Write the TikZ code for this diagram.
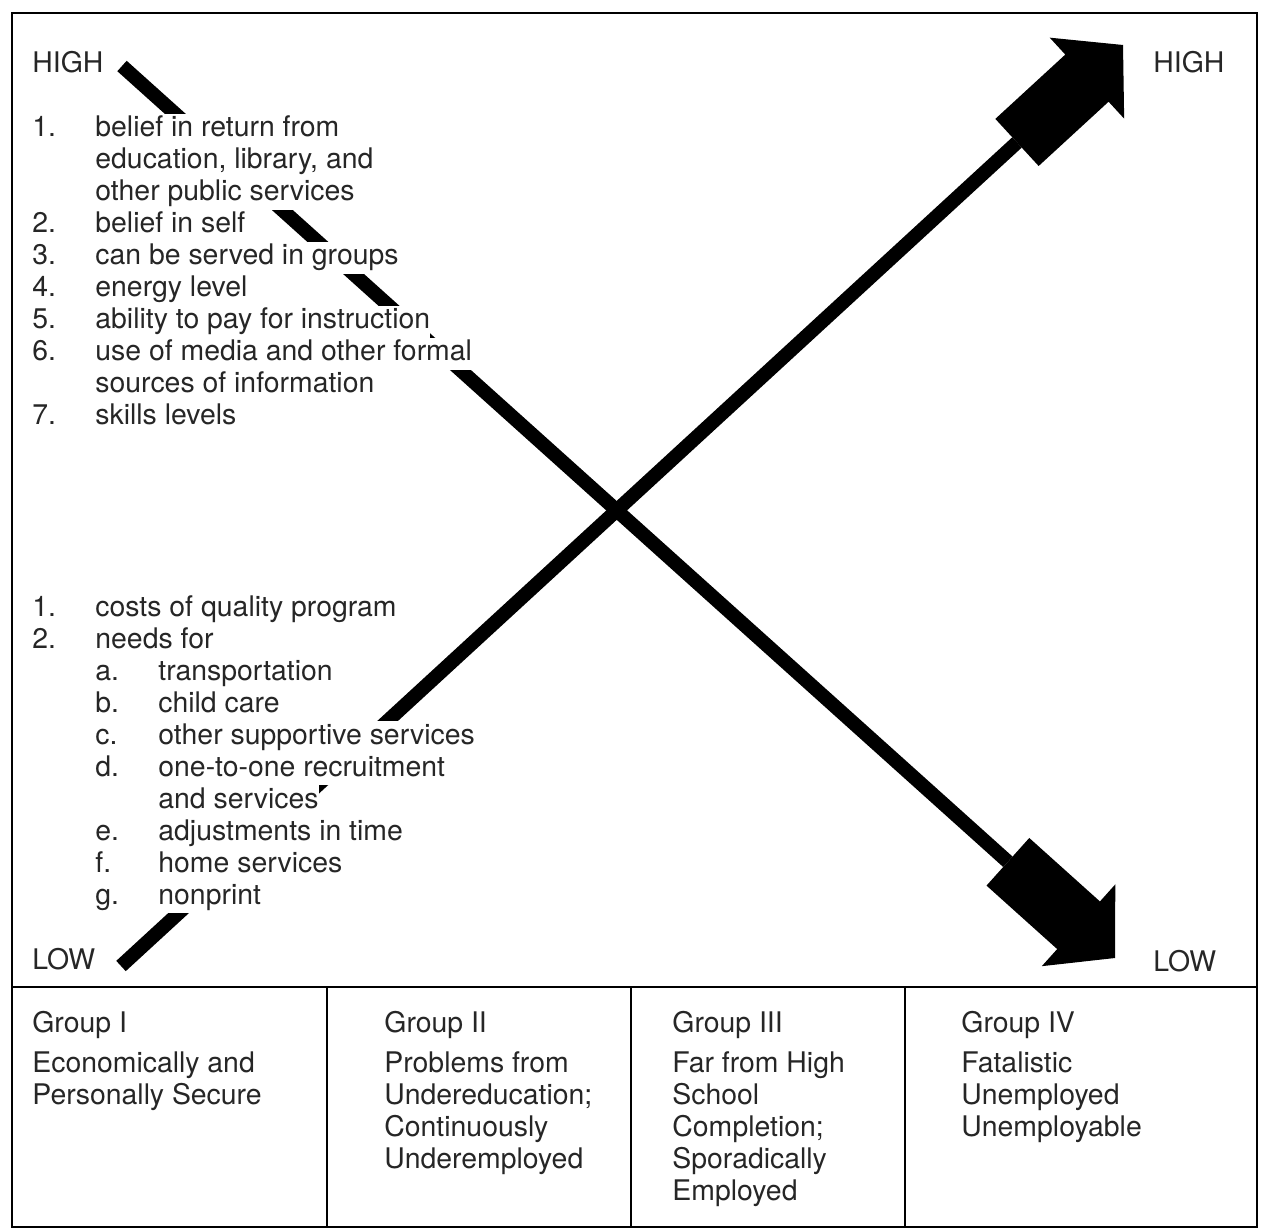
\documentclass[tikz,border=0pt]{standalone}
\usepackage{fontspec}
\setmainfont{TeX Gyre Heros}
\usepackage{tikz}
\usetikzlibrary{calc}
\newcommand{\makearrow}[2]{
	\coordinate (hb) at ($(#2)!24.5pt!(#1)$);
	\coordinate (bb) at ($(#2)!72pt!(#1)$);
	\draw[line width=7pt] (#1) -- (bb);
	\fill ($(bb)!16pt!90:(#2)$) -- ($(hb)!16pt!90:(#2)$) -- ($(hb)!27.5pt!90:(#2)$) -- (#2)
		-- ($(hb)!27.5pt!-90:(#2)$) -- ($(hb)!16pt!-90:(#2)$) -- ($(bb)!16pt!-90:(#2)$) -- cycle;
}
\newcommand{\listline}[4]{\node[listtext] (#1) at (32,#2) {\makebox[31.5pt][l]{#3}#4};}
\newcommand{\subline}[4]{\node[listtext] (#1) at (32,#2) {\hspace*{31.5pt}\makebox[31.5pt][l]{#3}#4};}

\begin{document}
\begin{tikzpicture}[x=0.5pt,y=-0.5pt,
	every node/.style={font=\fontsize{14.2}{16}\selectfont, text=black!85},
	listtext/.style={anchor=base west, inner sep=0pt, fill=white, text height=11.5pt, text depth=4.5pt},
	scale label/.style={anchor=base west, inner sep=0pt},
	grouptext/.style={anchor=north west, inner sep=0pt, align=left}]
	\useasboundingbox (0,0) rectangle (1267,1229);

	\draw[line width=1.2pt] (12,13) rectangle (1257,1227);
	\draw[line width=1.2pt] (12,987) -- (1257,987);
	\draw[line width=1.2pt] (327,987) -- (327,1227);
	\draw[line width=1.2pt] (631,987) -- (631,1227);
	\draw[line width=1.2pt] (905,987) -- (905,1227);

	\coordinate (tailA) at (121,966);
	\coordinate (tipA) at (1123,45);
	\coordinate (tailB) at (122,66);
	\coordinate (tipB) at (1115,958);
	\makearrow{tailA}{tipA}
	\makearrow{tailB}{tipB}

	\node[scale label] (hl) at (32,73) {HIGH};
	\node[scale label] (hr) at (1153,73) {HIGH};
	\node[scale label] (ll) at (32,969) {LOW};
	\node[scale label] (lr) at (1153,971) {LOW};

	\listline{u1}{137}{1.}{belief in return from}
	\listline{u2}{169}{}{education, library, and}
	\listline{u3}{201}{}{other public services}
	\listline{u4}{233}{2.}{belief in self}
	\listline{u5}{265}{3.}{can be served in groups}
	\listline{u6}{297}{4.}{energy level}
	\listline{u7}{329}{5.}{ability to pay for instruction}
	\listline{u8}{361}{6.}{use of media and other formal}
	\listline{u9}{393}{}{sources of information}
	\listline{u10}{425}{7.}{skills levels}

	\listline{d1}{616}{1.}{costs of quality program}
	\listline{d2}{648}{2.}{needs for}
	\subline{d3}{680}{a.}{transportation}
	\subline{d4}{712}{b.}{child care}
	\subline{d5}{744}{c.}{other supportive services}
	\subline{d6}{776}{d.}{one-to-one recruitment}
	\subline{d7}{808}{}{and services}
	\subline{d8}{840}{e.}{adjustments in time}
	\subline{d9}{872}{f.}{home services}
	\subline{d10}{904}{g.}{nonprint}

	\node[grouptext] (g1) at (32,1011) {Group I\\[4pt]Economically and\\Personally Secure};
	\node[grouptext] (g2) at (384,1011) {Group II\\[4pt]Problems from\\Undereducation;\\Continuously\\Underemployed};
	\node[grouptext] (g3) at (672,1011) {Group III\\[4pt]Far from High\\School\\Completion;\\Sporadically\\Employed};
	\node[grouptext] (g4) at (961,1011) {Group IV\\[4pt]Fatalistic\\Unemployed\\Unemployable};
\end{tikzpicture}
\end{document}
